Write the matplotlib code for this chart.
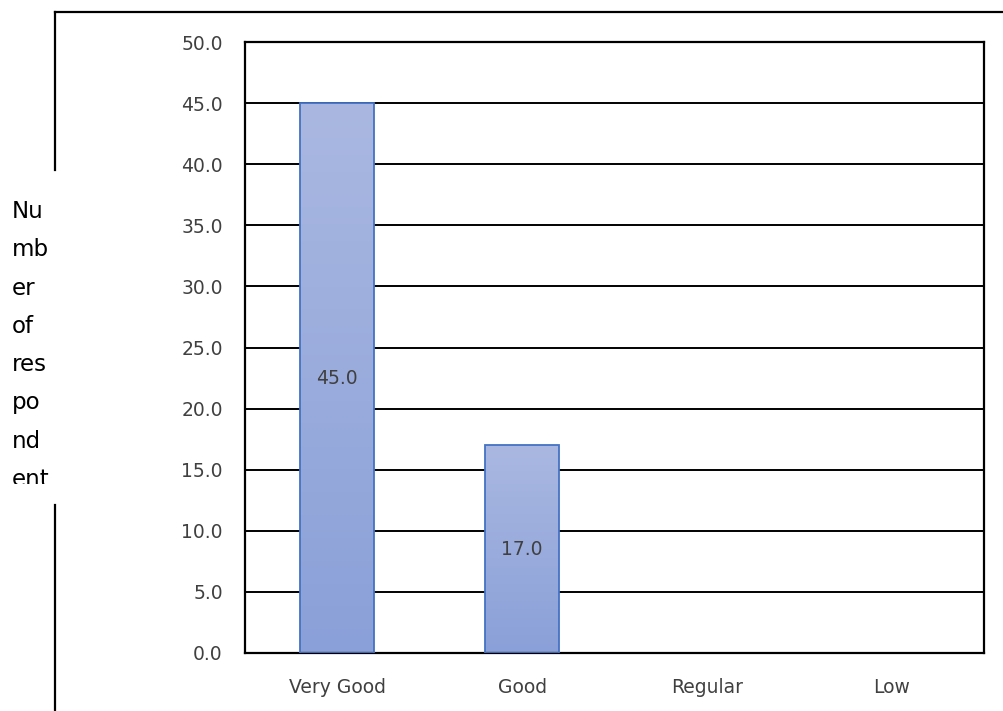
import matplotlib
matplotlib.use('Agg')
import matplotlib.pyplot as plt
import numpy as np
from matplotlib.lines import Line2D
from matplotlib.patches import Rectangle
from matplotlib.colors import LinearSegmentedColormap

categories = ['Very Good', 'Good', 'Regular', 'Low']
respondents = [45.0, 17.0, 0.0, 0.0]
y_ticks = [0, 5, 10, 15, 20, 25, 30, 35, 40, 45, 50]
y_label_parts = ['Nu', 'mb', 'er', 'of', 'res', 'po', 'nd', 'ent']

W, H = 1004, 711
TEXT_COLOR = '#404040'

fig = plt.figure(figsize=(W / 100, H / 100), dpi=100)
fig.patch.set_facecolor('white')


def px(x, y):
    # pixel coords (top-left origin) -> figure fraction
    return x / W, 1 - y / H


# outer chart frame (broken by the axis title box on the left)
fig.add_artist(Line2D([55 / W, 1.0], [px(0, 12)[1]] * 2, color='black', lw=1.6))
fig.add_artist(Line2D([55 / W] * 2, [px(0, 12)[1], px(0, 170)[1]], color='black', lw=1.6))
fig.add_artist(Line2D([55 / W] * 2, [px(0, 505)[1], 0.0], color='black', lw=1.6))

ax = fig.add_axes([245 / W, 1 - 653 / H, (984 - 245) / W, (653 - 42) / H])
x = np.arange(len(categories))
bars = ax.bar(x, respondents, width=0.4, facecolor='none', edgecolor='#4472C4',
              linewidth=1.3, zorder=3)

cmap = LinearSegmentedColormap.from_list('bar_grad', ['#8AA0D8', '#AAB8E1'])
grad = np.linspace(0, 1, 256).reshape(-1, 1)
for b, v in zip(bars, respondents):
    if v <= 0:
        b.set_visible(False)
        continue
    im = ax.imshow(grad, cmap=cmap, aspect='auto', origin='lower', zorder=2,
                   extent=[b.get_x(), b.get_x() + b.get_width(), 0, v])
    im.set_clip_path(b)
    ax.text(b.get_x() + b.get_width() / 2, v / 2, '{:.1f}'.format(v), ha='center', va='center',
            fontsize=13.5, color=TEXT_COLOR, zorder=4)

ax.set_xlim(-0.5, len(categories) - 0.5)
ax.set_ylim(0, 50)
ax.set_yticks(y_ticks)
ax.set_yticklabels(['{:.1f}'.format(t) for t in y_ticks])
ax.set_xticks(x)
ax.set_xticklabels(categories)
ax.tick_params(axis='both', length=0, labelsize=13.5, labelcolor=TEXT_COLOR)
ax.tick_params(axis='y', pad=16)
ax.tick_params(axis='x', pad=18)
ax.yaxis.grid(True, color='black', linewidth=1.4, zorder=1)
ax.set_axisbelow(True)
for s in ax.spines.values():
    s.set_color('black')
    s.set_linewidth(1.6)

# wrapped axis title, clipped like the original text box
clip = Rectangle((0, px(0, 484)[1]), 200 / W, (484 - 170) / H, transform=fig.transFigure,
                 facecolor='none', edgecolor='none')
for i, part in enumerate(y_label_parts):
    t = fig.text(12 / W, px(0, 218 + i * 38.3)[1], part, ha='left', va='baseline',
                 fontsize=16.5, color='black')
    t.set_clip_path(clip)

fig.savefig('out.png', dpi=100)
